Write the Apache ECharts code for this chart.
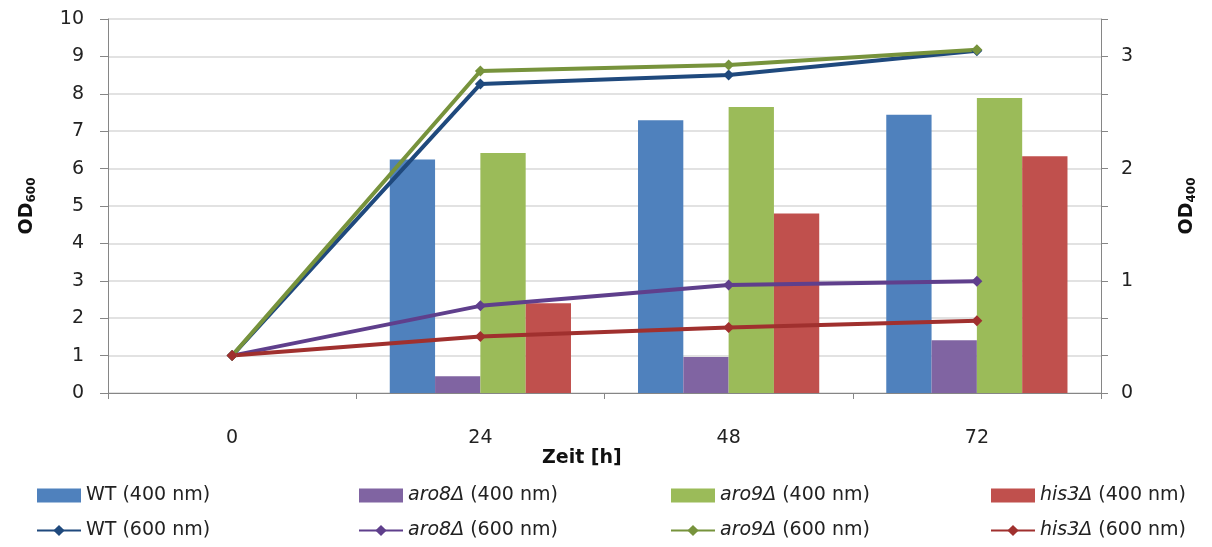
<!DOCTYPE html>
<html lang="de">
<head>
    <meta charset="UTF-8">
    <title>OD Wachstum</title>
    <script src="https://cdn.jsdelivr.net/npm/echarts@6/dist/echarts.min.js"></script>
    <style>
        html, body { margin: 0; padding: 0; background: #fff; }
        #chart { width: 1212px; height: 547px; }
    </style>
</head>
<body>
<div id="chart"></div>
<script>
    // Zeitpunkte
    var zeiten = ['0', '24', '48', '72'];

    // OD400 (rechte Achse), Balken
    var wt400   = [null, 2.08, 2.43, 2.48];
    var aro8400 = [null, 0.15, 0.32, 0.47];
    var aro9400 = [null, 2.14, 2.55, 2.63];
    var his3400 = [null, 0.80, 1.60, 2.11];

    // OD600 (linke Achse), Linien
    var wt600   = [1.0, 8.26, 8.50, 9.15];
    var aro8600 = [1.0, 2.33, 2.89, 2.99];
    var aro9600 = [1.0, 8.61, 8.77, 9.18];
    var his3600 = [1.0, 1.51, 1.75, 1.93];

    var font = 'DejaVu Sans';

    function barSerie(name, data, color) {
        return {
            name: name, type: 'bar', yAxisIndex: 1, data: data,
            barGap: 0, barCategoryGap: '27%',
            itemStyle: { color: color }
        };
    }
    function lineSerie(name, data, color) {
        return {
            name: name, type: 'line', yAxisIndex: 0, data: data, z: 5,
            symbol: 'diamond', symbolSize: 11,
            lineStyle: { color: color, width: 4 },
            itemStyle: { color: color }
        };
    }
    function legendCol(names, left) {
        return {
            data: [{ name: names[0], icon: 'rect' }, { name: names[1] }],
            orient: 'vertical', left: left, top: 481,
            itemGap: 16, itemWidth: 44, itemHeight: 14,
            textStyle: {
                fontFamily: font, fontSize: 19, color: '#222',
                rich: { i: { fontFamily: font, fontSize: 19, color: '#222', fontStyle: 'italic' } }
            },
            formatter: function (n) {
                var p = n.indexOf(' (');
                var head = n.slice(0, p);
                if (head === 'WT') return n;
                return '{i|' + head + '}' + n.slice(p);
            }
        };
    }
    var nameRich = {
        b: { fontFamily: font, fontSize: 19, fontWeight: 'bold', color: '#111' },
        s: { fontFamily: font, fontSize: 12, fontWeight: 'bold', color: '#111', verticalAlign: 'bottom', padding: [9, 0, 0, 0] }
    };

    var option = {
        animation: false,
        title: {
            text: 'Zeit [h]', left: 537, top: 444,
            textStyle: { fontFamily: font, fontSize: 19, fontWeight: 'bold', color: '#111' }
        },
        legend: [
            legendCol(['WT (400 nm)', 'WT (600 nm)'], 31),
            legendCol(['aro8Δ (400 nm)', 'aro8Δ (600 nm)'], 353),
            legendCol(['aro9Δ (400 nm)', 'aro9Δ (600 nm)'], 665),
            legendCol(['his3Δ (400 nm)', 'his3Δ (600 nm)'], 985)
        ],
        grid: { left: 108, right: 111, top: 19, bottom: 154 },
        xAxis: {
            type: 'category', data: zeiten,
            axisLine: { lineStyle: { color: '#868686', width: 1 } },
            axisTick: { show: true, length: 6, lineStyle: { color: '#868686' } },
            axisLabel: { fontFamily: font, fontSize: 19, color: '#222', margin: 36 }
        },
        yAxis: [{
            type: 'value', min: 0, max: 10, interval: 1,
            name: '{b|OD}{s|600}', nameLocation: 'middle', nameRotate: 90, nameGap: 70,
            nameTextStyle: { rich: nameRich },
            axisLine: { show: true, lineStyle: { color: '#868686' } },
            axisTick: { show: true, length: 8, lineStyle: { color: '#868686' } },
            axisLabel: { fontFamily: font, fontSize: 19, color: '#222', margin: 24 },
            splitLine: { lineStyle: { color: '#d9d9d9', width: 1.5 } }
        }, {
            type: 'value', min: 0, max: 10 / 3, interval: 1 / 3,
            name: '{b|OD}{s|400}', nameLocation: 'middle', nameRotate: 90, nameGap: 76,
            nameTextStyle: { rich: nameRich },
            axisLine: { show: true, lineStyle: { color: '#868686' } },
            axisTick: { show: true, length: 7, lineStyle: { color: '#868686' } },
            axisLabel: {
                fontFamily: font, fontSize: 19, color: '#222', margin: 20,
                formatter: function (v) {
                    var r = Math.round(v);
                    return Math.abs(v - r) < 1e-6 ? String(r) : '';
                }
            },
            splitLine: { show: false }
        }],
        series: [
            barSerie('WT (400 nm)', wt400, '#4F81BD'),
            barSerie('aro8Δ (400 nm)', aro8400, '#8064A2'),
            barSerie('aro9Δ (400 nm)', aro9400, '#9BBB59'),
            barSerie('his3Δ (400 nm)', his3400, '#C0504D'),
            lineSerie('WT (600 nm)', wt600, '#1F497D'),
            lineSerie('aro8Δ (600 nm)', aro8600, '#5F3F8C'),
            lineSerie('aro9Δ (600 nm)', aro9600, '#77933C'),
            lineSerie('his3Δ (600 nm)', his3600, '#A0302E')
        ]
    };

    var myChart = echarts.init(document.getElementById('chart'));
    myChart.setOption(option);
</script>
</body>
</html>
